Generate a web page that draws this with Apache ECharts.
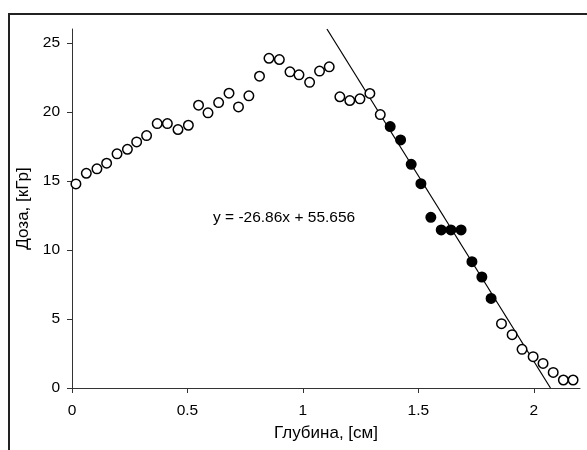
<!DOCTYPE html>
<html>
<head>
<meta charset="utf-8">
<script src="https://cdn.jsdelivr.net/npm/echarts@6/dist/echarts.min.js"></script>
<style>
html,body{margin:0;padding:0;background:#fff;}
#chart{width:587px;height:450px;}
</style>
</head>
<body>
<div id="chart"></div>
<script>
// Open circles (measured points outside the fitted region)
var depthOpen = [0.017,0.062,0.108,0.150,0.195,0.240,0.280,0.323,0.369,0.413,0.459,0.504,0.548,0.589,0.635,0.680,0.721,0.766,0.812,0.853,0.898,0.944,0.983,1.029,1.072,1.114,1.160,1.203,1.247,1.290,1.335,1.860,1.906,1.949,1.997,2.040,2.084,2.128,2.170];
var doseOpen  = [14.78,15.55,15.87,16.28,16.96,17.29,17.82,18.28,19.15,19.15,18.72,19.03,20.48,19.93,20.67,21.35,20.36,21.16,22.58,23.88,23.79,22.90,22.68,22.14,22.95,23.26,21.09,20.82,20.94,21.33,19.80,4.66,3.86,2.80,2.27,1.78,1.13,0.58,0.58];
// Filled circles (points used for the linear fit)
var depthFilled = [1.378,1.423,1.469,1.511,1.554,1.599,1.641,1.685,1.732,1.775,1.815];
var doseFilled  = [18.93,17.97,16.20,14.80,12.36,11.45,11.45,11.45,9.15,8.04,6.49];
// Linear trend: y = slope*x + intercept
var slope = -26.86;
var intercept = 55.656;
var trendText = 'y = -26.86x + 55.656';
var xTicks = [0, 0.5, 1, 1.5, 2];
var yTicks = [0, 5, 10, 15, 20, 25];
var xMax = 2.2, yMax = 26;

function pairs(xs, ys){ return xs.map(function(x,i){ return [x, ys[i]]; }); }
var trendData = [[(yMax - intercept)/slope, yMax], [(0 - intercept)/slope, 0]];

var font = 'Liberation Sans, Arial, sans-serif';
var chart = echarts.init(document.getElementById('chart'), null, {renderer:'canvas'});
chart.setOption({
  animation: false,
  backgroundColor: '#fff',
  grid: {left: 72, top: 29, right: 7, bottom: 62, containLabel: false},
  xAxis: {
    type: 'value', min: 0, max: xMax,
    name: 'Глубина, [см]', nameLocation: 'middle', nameGap: 37,
    nameTextStyle: {fontFamily: font, fontSize: 17, color: '#000'},
    splitLine: {show: false},
    axisLine: {show: true, onZero: false, lineStyle: {color: '#333', width: 1}},
    axisTick: {show: true, length: 5, inside: false, customValues: xTicks, lineStyle: {color: '#333'}},
    axisLabel: {customValues: xTicks, margin: 15, fontFamily: font, fontSize: 15.5, color: '#000',
      formatter: function(v){ return String(v); }}
  },
  yAxis: {
    type: 'value', min: 0, max: yMax,
    name: 'Доза, [кГр]', nameLocation: 'middle', nameGap: 38,
    nameTextStyle: {fontFamily: font, fontSize: 17, color: '#000'},
    splitLine: {show: false},
    axisLine: {show: true, onZero: false, lineStyle: {color: '#333', width: 1}},
    axisTick: {show: true, length: 5, inside: false, customValues: yTicks, lineStyle: {color: '#333'}},
    axisLabel: {customValues: yTicks, margin: 12, fontFamily: font, fontSize: 15.5, color: '#000'}
  },
  series: [
    {
      type: 'line', data: trendData, showSymbol: false, symbol: 'none',
      lineStyle: {color: '#000', width: 1.2}, z: 1, silent: true
    },
    {
      type: 'scatter', data: pairs(depthOpen, doseOpen), symbol: 'circle', symbolSize: 9.5,
      itemStyle: {color: '#fff', borderColor: '#000', borderWidth: 1.5, opacity: 1}, z: 3
    },
    {
      type: 'scatter', data: pairs(depthFilled, doseFilled), symbol: 'circle', symbolSize: 9.5,
      itemStyle: {color: '#000', borderColor: '#000', borderWidth: 1.5, opacity: 1}, z: 3
    }
  ],
  graphic: [
    {
      type: 'polyline', z: 100, silent: true,
      shape: {points: [[9, 470], [9, 14], [610, 14]]},
      style: {fill: 'none', stroke: '#222', lineWidth: 2}
    },
    {
      type: 'text', left: 213, top: 210, z: 100,
      style: {text: trendText, fontFamily: font, fontSize: 15.5, fill: '#000'}
    }
  ]
});
</script>
</body>
</html>
